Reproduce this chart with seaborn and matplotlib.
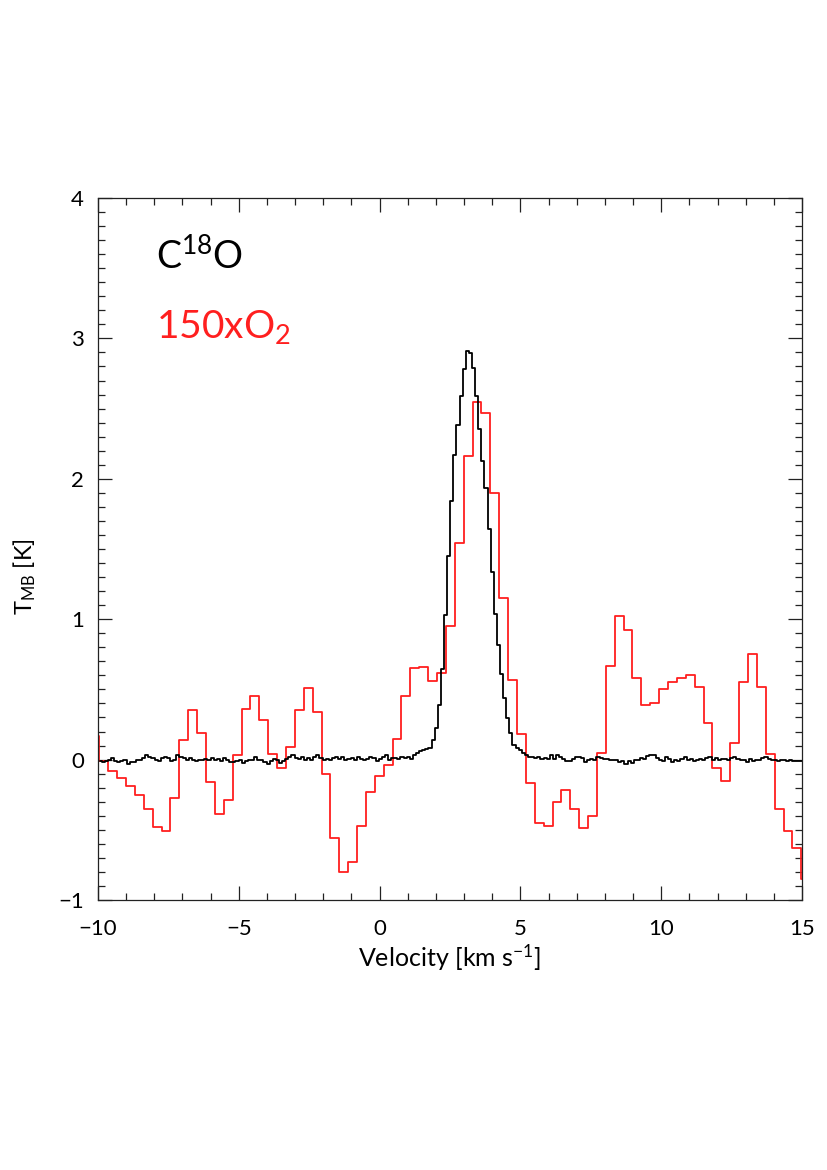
import numpy as np
import pandas as pd
import seaborn as sns
import matplotlib
matplotlib.use("Agg")
import matplotlib.pyplot as plt
from matplotlib.ticker import MultipleLocator

# --- C18O spectrum (fine channels, ~0.11 km/s)
c18o_start = -9.98
c18o_dv = 0.1105
c18o_a = [-0.01, -0.02, -0.01, 0.0, 0.01, -0.01, -0.02, -0.01, -0.005, -0.03,
          -0.02, -0.015, 0.0, -0.005, 0.01, 0.03, 0.02, 0.01, 0.0, -0.01,
          0.01, 0.02, 0.01, -0.01, 0.0, 0.035, 0.02, 0.01, 0.0, 0.01,
          -0.005, -0.01, -0.005, 0.0, 0.005, 0.0, 0.01]
c18o_b = [0.0, 0.005, -0.01, 0.01, -0.005, -0.02, -0.015, -0.01, 0.0, -0.025,
          -0.01, 0.0, -0.005, 0.015, -0.005, 0.0, -0.02, -0.03, -0.01, 0.005,
          -0.005, -0.025, -0.01, 0.005, 0.02, 0.035, 0.01, 0.005, 0.02, -0.005,
          0.01, 0.0, 0.02, 0.03, 0.01, -0.005, 0.005, 0.0]
c18o_c = [0.01, 0.02, 0.005, 0.015, 0.0, 0.005, 0.01, -0.005, 0.015, 0.005,
          -0.005, 0.005, 0.015, 0.01, -0.01, 0.005, 0.015, 0.03, 0.0, 0.01,
          0.01, 0.005, 0.02, 0.01, 0.015, 0.005, 0.035, 0.045, 0.06, 0.07,
          0.075, 0.085]
c18o_peak = [0.143, 0.226, 0.388, 0.648, 1.029, 1.452, 1.84, 2.167, 2.381, 2.588,
             2.779, 2.909, 2.893, 2.79, 2.59, 2.352, 2.124, 1.936, 1.643, 1.333,
             1.036, 0.814, 0.612, 0.436, 0.298, 0.19, 0.102, 0.083, 0.067]
c18o_d = [0.045, 0.03, 0.015, 0.02, 0.01, 0.015, 0.005, 0.01, 0.005, 0.035,
          0.005, 0.03, 0.015, 0.005, -0.01, -0.01, 0.005, 0.015, 0.02, 0.01,
          -0.015, -0.005, 0.005, 0.0, 0.015, 0.01, 0.005, 0.005, 0.0, 0.0]
c18o_e = [-0.005, -0.02, -0.01, -0.03, -0.01, -0.025, -0.005, 0.0, 0.01, 0.005,
          0.025, 0.035, 0.03, 0.01, 0.0, -0.01, 0.02, 0.005, -0.02, -0.005,
          -0.01, 0.005, 0.02, -0.005, 0.005, -0.01, -0.005, 0.005, 0.0, 0.01,
          0.02, 0.0, 0.01, -0.005, 0.005]
c18o_f = [0.005, 0.0, 0.01, 0.015, 0.005, 0.0, -0.005, -0.02, 0.005, -0.01,
          0.0, -0.005, 0.01, 0.02, 0.005, -0.005, 0.0, -0.01, -0.005, 0.0,
          -0.01, -0.005, -0.008, -0.008, -0.01, -0.01]

# --- 150 x O2 spectrum (coarse channels, ~0.32 km/s)
o2_start = -9.95
o2_dv = 0.3155
o2_vals = [0.17,
           -0.01, -0.08, -0.13, -0.19, -0.25, -0.35, -0.48, -0.51, -0.27, 0.14,
           0.35, 0.19, -0.16, -0.39, -0.29, 0.03, 0.36, 0.45, 0.28, 0.04,
           -0.06, 0.09, 0.35, 0.51, 0.34, -0.10, -0.56, -0.80, -0.73, -0.47,
           -0.23, -0.12, -0.04, 0.15, 0.45, 0.65, 0.66, 0.56, 0.62, 0.95,
           1.54, 2.16, 2.55, 2.47, 1.90, 1.15, 0.57, 0.18, -0.17, -0.45,
           -0.47, -0.30, -0.22, -0.35, -0.49, -0.40, 0.05, 0.67, 1.02, 0.92,
           0.58, 0.39, 0.40, 0.50, 0.55, 0.58, 0.60, 0.52, 0.26, -0.06,
           -0.15, 0.12, 0.55, 0.75, 0.52, 0.04, -0.35, -0.51, -0.63, -0.85]

c18o_vals = c18o_a + c18o_b + c18o_c + c18o_peak + c18o_d + c18o_e + c18o_f
c18o = pd.DataFrame({"v": c18o_start + (np.arange(len(c18o_vals)) + 0.5) * c18o_dv,
                     "T": c18o_vals})
o2 = pd.DataFrame({"v": o2_start + (np.arange(len(o2_vals)) - 0.5) * o2_dv,
                   "T": o2_vals})

sns.set_style("ticks")
plt.rcParams["font.family"] = ["Lato", "DejaVu Sans"]
plt.rcParams["mathtext.fontset"] = "custom"
plt.rcParams["mathtext.rm"] = "Lato"
plt.rcParams["mathtext.it"] = "Lato"
plt.rcParams["axes.labelcolor"] = "black"

fig = plt.figure(figsize=(8.27, 11.70), dpi=100)
ax = fig.add_axes([98/827, 1-900/1170, 704/827, 702/1170])

sns.lineplot(data=o2, x="v", y="T", drawstyle="steps-mid", estimator=None,
             color="#ff1f1f", lw=1.3, ax=ax)
sns.lineplot(data=c18o, x="v", y="T", drawstyle="steps-mid", estimator=None,
             color="black", lw=1.3, ax=ax)

ax.set_xlim(-10, 15)
ax.set_ylim(-1, 4)
ax.xaxis.set_major_locator(MultipleLocator(5))
ax.xaxis.set_minor_locator(MultipleLocator(1))
ax.yaxis.set_major_locator(MultipleLocator(1))
ax.yaxis.set_minor_locator(MultipleLocator(0.1))
ax.tick_params(which="both", direction="in", top=True, right=True, width=0.9,
               colors="#222222", labelcolor="black")
ax.tick_params(which="major", length=10, labelsize=16)
ax.tick_params(which="minor", length=5)
ax.tick_params(axis="x", which="major", pad=14)
ax.tick_params(axis="y", which="major", pad=10)
for s in ax.spines.values():
    s.set_linewidth(0.9)
    s.set_color("#222222")

ax.set_xlabel("Velocity [km s$^{-1}$]", fontsize=18, color="black")
ax.set_ylabel("T$_{\\rm MB}$ [K]", fontsize=17, color="black")
ax.xaxis.set_label_coords(0.5, -0.060)
ax.yaxis.set_label_coords(-0.085, 0.46)

ax.text(0.082, 0.899, "C$^{18}$O", transform=ax.transAxes, fontsize=27,
        va="baseline", ha="left", color="black")
ax.text(0.082, 0.800, "150xO$_2$", transform=ax.transAxes, fontsize=28,
        va="baseline", ha="left", color="#ff1f1f")

fig.savefig("out.png", dpi=100)
